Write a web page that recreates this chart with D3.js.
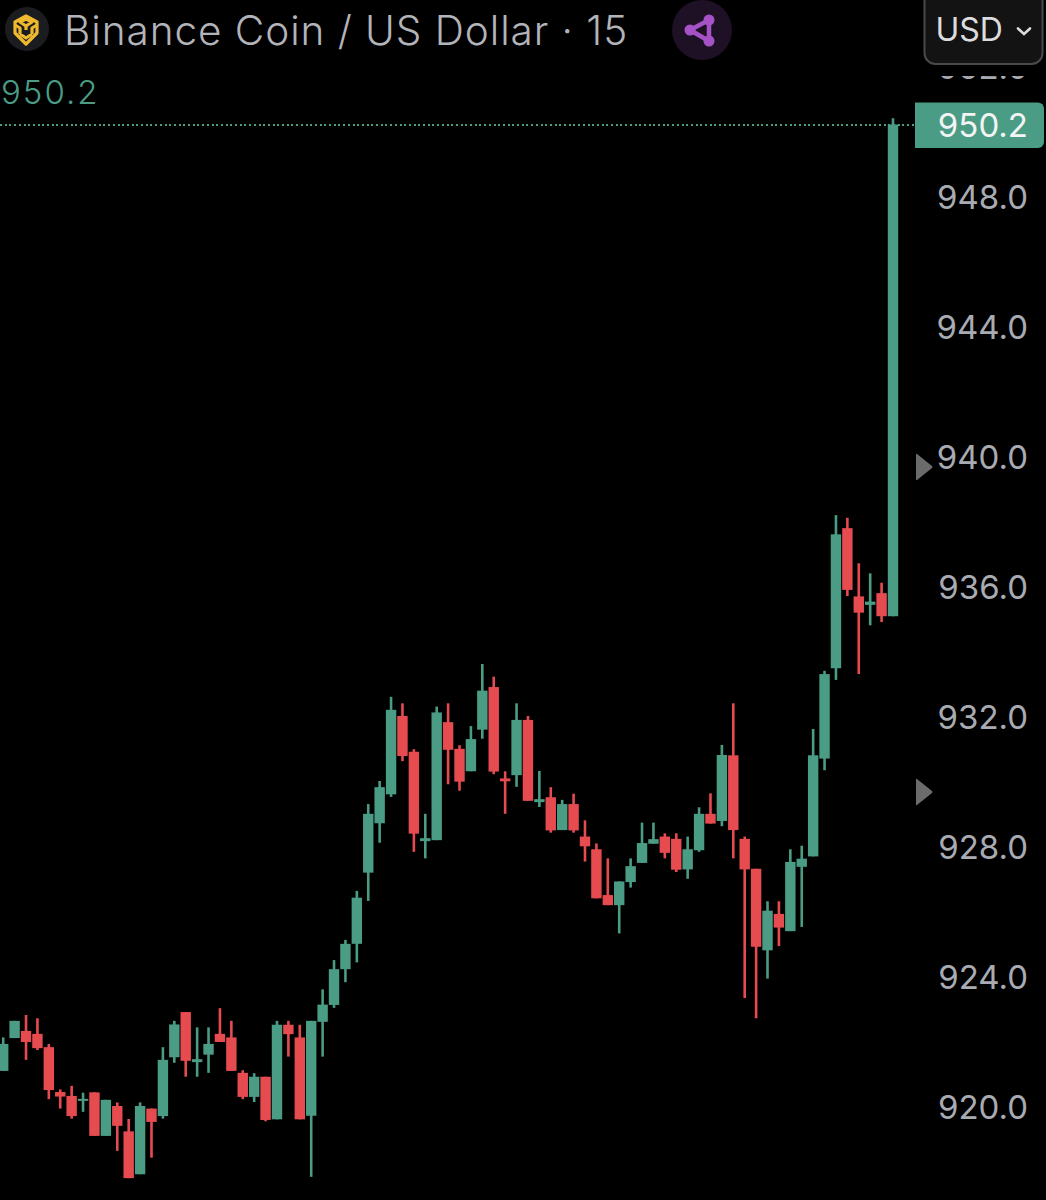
<!DOCTYPE html>
<html><head><meta charset="utf-8">
<script src="https://cdn.jsdelivr.net/npm/d3@7/dist/d3.min.js"></script>
<style>html,body{margin:0;padding:0;background:#000}svg{display:block}text{font-family:Inter,Roboto,sans-serif}</style>
</head><body><div id="chart"></div>
<script>
const titleText = "Binance Coin / US Dollar · 15";
const currencyLabel = "USD";
const lastPriceLabel = "950.2";
const tickValues = [920, 924, 928, 932, 936, 940, 944, 948, 952];
const opens = [921.08,922.09,922.31,922.22,921.81,920.43,920.31,920.16,920.42,919.08,920.00,919.22,917.90,919.92,919.69,921.50,922.89,921.35,921.58,922.22,922.11,921.02,920.28,920.90,919.59,922.50,922.11,919.70,922.59,923.11,924.21,924.99,927.18,928.70,929.59,932.00,930.90,928.15,928.18,931.81,930.99,930.30,931.58,932.89,930.08,930.18,931.88,929.35,929.50,928.49,929.29,928.29,927.90,926.49,926.18,926.89,927.48,928.07,928.29,928.22,927.28,927.87,928.99,928.77,930.79,928.22,927.30,924.79,925.91,925.38,927.36,927.68,930.69,933.47,937.78,935.68,935.42,935.78,935.07];
const highs = [922.11,922.62,922.80,922.70,921.91,920.51,920.62,920.41,920.42,920.19,920.11,919.60,920.11,919.92,921.81,922.62,922.89,922.42,922.42,923.01,922.62,921.10,921.01,920.90,922.62,922.62,922.50,922.62,923.59,924.49,925.11,926.62,929.29,930.00,932.59,932.39,930.98,928.99,932.29,932.39,931.10,931.69,933.60,933.21,930.30,932.39,932.00,930.31,929.81,929.42,929.61,928.79,928.08,927.62,926.91,927.62,928.72,928.72,928.39,928.39,928.29,929.19,929.62,931.11,932.39,928.29,927.30,926.30,926.30,927.90,928.01,931.60,933.39,938.18,938.10,936.70,936.39,936.10,950.39];
const lows = [921.08,922.09,921.42,921.72,920.21,919.92,919.61,919.82,919.08,919.08,918.62,917.78,917.90,918.41,919.61,921.33,920.90,920.90,921.02,921.97,921.08,920.21,920.12,919.53,919.59,921.52,919.59,917.82,921.52,923.02,923.81,924.42,926.31,928.10,929.51,930.61,927.82,927.62,928.18,929.90,929.70,930.30,931.30,930.21,928.99,929.82,929.39,929.20,928.41,928.49,928.41,927.52,926.39,926.18,925.31,926.72,927.48,928.07,927.62,927.20,926.99,927.82,928.69,928.61,927.62,923.32,922.70,923.92,924.92,925.38,925.51,927.68,930.33,933.11,935.69,933.29,934.79,934.89,935.07];
const closes = [921.91,922.62,921.97,921.78,920.49,920.29,919.69,920.22,919.08,920.19,919.39,917.78,920.00,919.51,921.42,922.51,921.39,921.44,921.91,921.97,921.08,920.28,920.90,919.57,922.50,922.21,919.59,922.62,923.12,924.21,924.99,926.41,928.99,929.81,932.19,930.77,928.38,928.24,932.11,930.96,929.98,931.29,932.78,930.29,929.99,931.88,929.39,929.44,928.48,929.29,928.48,927.99,926.39,926.18,926.91,927.38,928.09,928.21,927.79,927.27,927.90,928.99,928.69,930.80,928.49,927.28,924.90,926.01,925.49,927.51,927.61,930.79,933.29,937.59,935.88,935.18,935.52,935.07,950.2];
const lastPrice = 950.2;
const upColor = "#4a9c85", downColor = "#e64b50", tickColor = "#a9abb2";

const candles = d3.range(opens.length).map(i => ({i, o:opens[i], h:highs[i], l:lows[i], c:closes[i]}));
const svg = d3.select("#chart").append("svg").attr("width",1046).attr("height",1200).style("background","#000");
const x = d3.scaleLinear().domain([0, candles.length-1]).range([3.2, 893]);
const y = d3.scaleLinear().domain([920, 948]).range([1106, 196]);

// price axis, clipped under the header like the source
const defs = svg.append("defs");
defs.append("clipPath").attr("id","axisClip").append("rect").attr("x",900).attr("y",76).attr("width",146).attr("height",1124);
const axis = d3.axisRight(y).tickValues(tickValues).tickFormat(d3.format(".1f")).tickSize(0).tickPadding(0);
const ag = svg.append("g").attr("clip-path","url(#axisClip)").append("g").attr("transform","translate(1028,1)").call(axis);
ag.select(".domain").remove();
ag.selectAll("text").attr("text-anchor","end").attr("fill",tickColor).style("font-size","33px").style("font-family","Inter,Roboto,sans-serif").attr("dy","0.36em");

// last price line
svg.append("line").attr("x1",0).attr("x2",915).attr("y1",y(lastPrice)).attr("y2",y(lastPrice))
  .attr("stroke",upColor).attr("stroke-width",2).attr("stroke-dasharray","2 2.7").attr("shape-rendering","crispEdges");

// candles
const g = svg.append("g");
g.selectAll("line.wick").data(candles).join("line").attr("class","wick")
  .attr("x1",d=>x(d.i)).attr("x2",d=>x(d.i)).attr("y1",d=>y(d.h)).attr("y2",d=>y(d.l))
  .attr("stroke",d=>d.c>=d.o?upColor:downColor).attr("stroke-width",2.6);
g.selectAll("rect.body").data(candles).join("rect").attr("class","body")
  .attr("x",d=>x(d.i)-5.2).attr("width",10.4)
  .attr("y",d=>y(Math.max(d.o,d.c))).attr("height",d=>Math.max(2,Math.abs(y(d.o)-y(d.c))))
  .attr("fill",d=>d.c>=d.o?upColor:downColor);

// last price tag
svg.append("path").attr("d","M915,102.5H1038a6,6 0 0 1 6,6V142a6,6 0 0 1 -6,6H915Z").attr("fill",upColor);
svg.append("text").attr("x",1028).attr("y",y(lastPrice)+12.5).attr("text-anchor","end").attr("fill","#f2f5f4").style("font-size","33px").text(lastPriceLabel);

// header
svg.append("text").attr("x",64).attr("y",45).attr("fill","#b2b4ba").style("font-size","40.5px").style("font-weight",300).style("letter-spacing","0.95px").text(titleText);
svg.append("text").attr("x",1).attr("y",104).attr("fill",upColor).style("font-size","33px").style("font-weight",300).style("letter-spacing","2px").text(lastPriceLabel);

// BNB logo
svg.append("circle").attr("cx",27).attr("cy",29).attr("r",22).attr("fill","#1b1c20");
const bnb = svg.append("g").attr("fill","none").attr("stroke","#eeb92f").attr("stroke-width",3.2).attr("stroke-linejoin","round");
bnb.append("path").attr("d","M26,16L37,22V33L26,44L15,33V22Z");
bnb.append("path").attr("d","M20,22L26,19L32,22L26,26ZM15,25L20,28V34M37,25L32,28V34M20,34L26,38L32,34M26,26V30");

// purple badge
svg.append("circle").attr("cx",702).attr("cy",30).attr("r",30).attr("fill","#1e1126");
const pts = [[709,20],[690,30],[709,41]];
svg.append("path").attr("d",d3.line()([...pts,pts[0]])).attr("fill","none").attr("stroke","#a552c6").attr("stroke-width",4.5);
svg.selectAll("circle.node").data(pts).join("circle").attr("class","node").attr("cx",d=>d[0]).attr("cy",d=>d[1]).attr("r",5.5).attr("fill","#a552c6");

// currency button
svg.append("rect").attr("x",924.5).attr("y",-12).attr("width",118).attr("height",76).attr("rx",11).attr("fill","#131313").attr("stroke","#4a4a4c").attr("stroke-width",2);
svg.append("text").attr("x",935.5).attr("y",41).attr("fill","#dcdcde").style("font-size","32px").text(currencyLabel);
svg.append("path").attr("d","M1018,28.5L1024,34L1030,28.5").attr("fill","none").attr("stroke","#dcdcde").attr("stroke-width",2.6).attr("stroke-linecap","round");

// scroll arrows
[[467],[792]].forEach(([cy])=>{
  svg.append("path").attr("d",`M917,${cy-13}L932,${cy-1}Q933,${cy} 932,${cy+1}L917,${cy+13}Q916,${cy+14} 916,${cy+12}V${cy-12}Q916,${cy-14} 917,${cy-13}Z`).attr("fill","#6b6b6b");
});
</script></body></html>
